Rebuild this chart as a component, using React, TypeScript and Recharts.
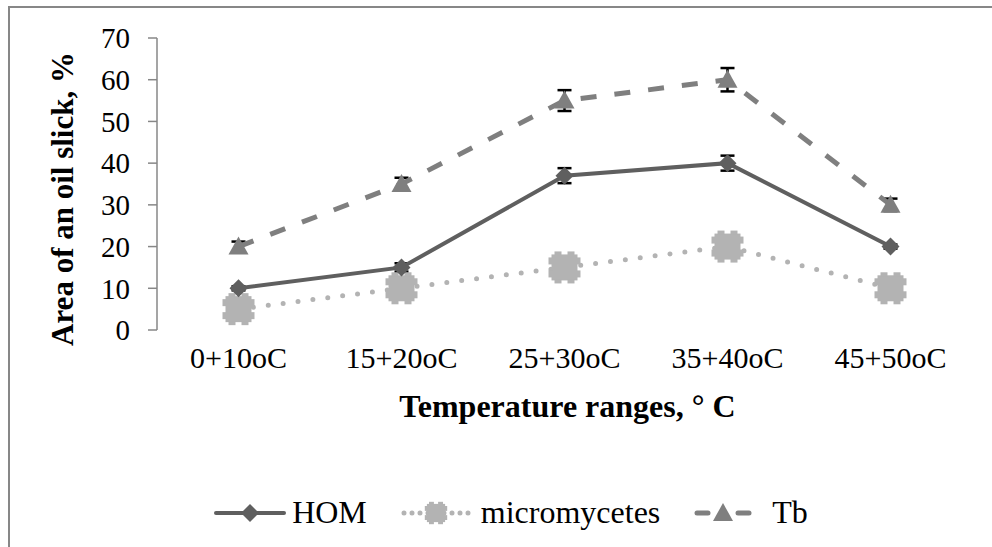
import React from 'react';
import { LineChart, Line, XAxis, YAxis, ErrorBar, Label, Legend } from 'recharts';

const categories = ['0+10oC', '15+20oC', '25+30oC', '35+40oC', '45+50oC'];
const homValues = [10, 15, 37, 40, 20];
const homErrors = [0.5, 1, 1.8, 1.8, 0.5];
const microValues = [5, 10, 15, 20, 10];
const tbValues = [20, 35, 55, 60, 30];
const tbErrors = [1.2, 1.5, 2.5, 2.8, 1.5];
const yTicks = [0, 10, 20, 30, 40, 50, 60, 70];
const boundaryTicks = [0, 1, 2, 3, 4, 5];

const data = categories.map((cat, i) => ({
  cat,
  hom: homValues[i],
  homErr: homErrors[i],
  micro: microValues[i],
  tb: tbValues[i],
  tbErr: tbErrors[i],
}));

const FONT = "'Liberation Serif'";
const AXIS = '#878787';
const HOM_COLOR = '#5f5f5f';
const MICRO_COLOR = '#b3b3b3';
const TB_COLOR = '#7f7f7f';

const diamondPath = (cx: number, cy: number) =>
  `M${cx} ${cy - 9} L${cx + 9} ${cy} L${cx} ${cy + 9} L${cx - 9} ${cy} Z`;

const trianglePath = (cx: number, cy: number) =>
  `M${cx} ${cy - 10} L${cx + 10} ${cy + 8} L${cx - 10} ${cy + 8} Z`;

// rough "gear" square used by the micromycetes series
const blobShapes = (cx: number, cy: number, s = 1) => [
  { x: cx - 13 * s, y: cy - 13 * s, w: 26 * s, h: 26 * s },
  { x: cx - 10 * s, y: cy - 16 * s, w: 7 * s, h: 4 * s },
  { x: cx + 3 * s, y: cy - 16 * s, w: 7 * s, h: 4 * s },
  { x: cx - 10 * s, y: cy + 12 * s, w: 7 * s, h: 4 * s },
  { x: cx + 3 * s, y: cy + 12 * s, w: 7 * s, h: 4 * s },
  { x: cx - 16 * s, y: cy - 10 * s, w: 4 * s, h: 7 * s },
  { x: cx - 16 * s, y: cy + 3 * s, w: 4 * s, h: 7 * s },
  { x: cx + 12 * s, y: cy - 10 * s, w: 4 * s, h: 7 * s },
  { x: cx + 12 * s, y: cy + 3 * s, w: 4 * s, h: 7 * s },
];

const HomDot = (props: any) => {
  const { cx, cy, index } = props;
  return <path key={`hom-${index}`} d={diamondPath(cx, cy)} fill={HOM_COLOR} />;
};

const TbDot = (props: any) => {
  const { cx, cy, index } = props;
  return <path key={`tb-${index}`} d={trianglePath(cx, cy)} fill={TB_COLOR} />;
};

const MicroDot = (props: any) => {
  const { cx, cy, index } = props;
  return (
    <g key={`micro-${index}`}>
      {blobShapes(cx, cy).map((r, i) => (
        <rect key={i} x={r.x} y={r.y} width={r.w} height={r.h} fill={MICRO_COLOR} />
      ))}
    </g>
  );
};

const CategoryTick = (props: any) => {
  const { x, y, payload } = props;
  return (
    <text x={x} y={y} dy={30} textAnchor="middle" style={{ fontFamily: FONT }} fontSize={30} fill="#000">
      {payload.value}
    </text>
  );
};

const legendItems = [
  { name: 'HOM', kind: 'hom', gap: 6 },
  { name: 'micromycetes', kind: 'micro', gap: 10 },
  { name: 'Tb', kind: 'tb', gap: 20 },
];

const LegendIcon = ({ kind }: { kind: string }) => {
  if (kind === 'hom') {
    return (
      <svg width={72} height={24}>
        <line x1={2} y1={12} x2={70} y2={12} stroke={HOM_COLOR} strokeWidth={4} strokeLinecap="round" />
        <path d={diamondPath(36, 12)} fill={HOM_COLOR} />
      </svg>
    );
  }
  if (kind === 'micro') {
    return (
      <svg width={70} height={24}>
        <line x1={3} y1={12} x2={68} y2={12} stroke={MICRO_COLOR} strokeWidth={5} strokeLinecap="round" strokeDasharray="0 8" />
        {blobShapes(35, 12, 0.7).map((r, i) => (
          <rect key={i} x={r.x} y={r.y} width={r.w} height={r.h} fill={MICRO_COLOR} />
        ))}
      </svg>
    );
  }
  return (
    <svg width={58} height={24}>
      <line x1={3} y1={12} x2={14} y2={12} stroke={TB_COLOR} strokeWidth={5} strokeLinecap="round" />
      <line x1={44} y1={12} x2={55} y2={12} stroke={TB_COLOR} strokeWidth={5} strokeLinecap="round" />
      <path d={trianglePath(29, 12)} fill={TB_COLOR} />
    </svg>
  );
};

const renderLegend = () => (
  <div
    style={{
      display: 'flex',
      justifyContent: 'center',
      alignItems: 'center',
      paddingLeft: 30,
      marginTop: 4,
      fontFamily: FONT,
      fontSize: 32,
      color: '#000',
    }}
  >
    {legendItems.map((item, i) => (
      <div key={item.name} style={{ display: 'flex', alignItems: 'center', marginLeft: i === 0 ? 0 : 34 }}>
        <LegendIcon kind={item.kind} />
        <span style={{ marginLeft: item.gap }}>{item.name}</span>
      </div>
    ))}
  </div>
);

export default function App() {
  return (
    <div style={{ position: 'fixed', left: 0, top: 0, width: 992, height: 547, overflow: 'hidden', background: '#fff', fontFamily: FONT }}>
      <div
        style={{
          position: 'absolute',
          left: 8,
          top: 6,
          width: 1200,
          height: 800,
          border: `2px solid ${AXIS}`,
          boxSizing: 'border-box',
        }}
      />
      <div style={{ position: 'absolute', left: 0, top: 0 }}>
        <LineChart
          width={992}
          height={547}
          data={data}
          margin={{ top: 38, right: 20, bottom: 17, left: 97 }}
          style={{ fontFamily: FONT }}
        >
          <XAxis
            xAxisId="grid"
            type="number"
            domain={[0, 5]}
            ticks={boundaryTicks}
            height={0}
            tick={() => <g />}
            tickSize={8}
            stroke={AXIS}
            axisLine={{ stroke: AXIS, strokeWidth: 1.5 }}
            tickLine={{ stroke: AXIS, strokeWidth: 1.5 }}
          />
          <XAxis
            xAxisId="cat"
            dataKey="cat"
            scale="band"
            height={160}
            axisLine={false}
            tickLine={false}
            tick={<CategoryTick />}
            interval={0}
          >
            <Label
              content={(props: any) => {
                const vb = props.viewBox;
                return (
                  <text
                    x={vb.x + vb.width / 2 + 3}
                    y={vb.y + 87}
                    textAnchor="middle"
                    style={{ fontFamily: FONT }}
                    fontWeight="bold"
                    fontSize={32}
                    fill="#000"
                  >
                    Temperature ranges, ° C
                  </text>
                );
              }}
            />
          </XAxis>
          <YAxis
            width={60}
            domain={[0, 70]}
            ticks={yTicks}
            interval={0}
            tickSize={9}
            tickMargin={18}
            axisLine={{ stroke: AXIS, strokeWidth: 1.5 }}
            tickLine={{ stroke: AXIS, strokeWidth: 1.5 }}
            tick={{ style: { fontFamily: FONT }, fontSize: 29, fill: '#000' }}
          >
            <Label
              content={(props: any) => {
                const vb = props.viewBox;
                const x = vb.x - 35;
                const y = vb.y + vb.height / 2 + 15;
                return (
                  <text
                    x={x}
                    y={y}
                    transform={`rotate(-90 ${x} ${y})`}
                    textAnchor="middle"
                    dominantBaseline="central"
                    style={{ fontFamily: FONT }}
                    fontWeight="bold"
                    fontSize={31}
                    fill="#000"
                  >
                    Area of an oil slick, %
                  </text>
                );
              }}
            />
          </YAxis>
          <Legend verticalAlign="bottom" height={40} content={renderLegend} wrapperStyle={{ left: 0, width: 992 }} />
          <Line
            xAxisId="cat"
            dataKey="micro"
            name="micromycetes"
            stroke={MICRO_COLOR}
            strokeWidth={5}
            strokeDasharray="0 15"
            strokeLinecap="round"
            dot={MicroDot}
            activeDot={false}
            isAnimationActive={false}
          />
          <Line
            xAxisId="cat"
            dataKey="hom"
            name="HOM"
            stroke={HOM_COLOR}
            strokeWidth={4}
            dot={HomDot}
            activeDot={false}
            isAnimationActive={false}
          >
            <ErrorBar dataKey="homErr" direction="y" width={7} stroke="#000" strokeWidth={2.5} />
          </Line>
          <Line
            xAxisId="cat"
            dataKey="tb"
            name="Tb"
            stroke={TB_COLOR}
            strokeWidth={5}
            strokeDasharray="16 18"
            dot={TbDot}
            activeDot={false}
            isAnimationActive={false}
          >
            <ErrorBar dataKey="tbErr" direction="y" width={7} stroke="#000" strokeWidth={2.5} />
          </Line>
        </LineChart>
      </div>
    </div>
  );
}
